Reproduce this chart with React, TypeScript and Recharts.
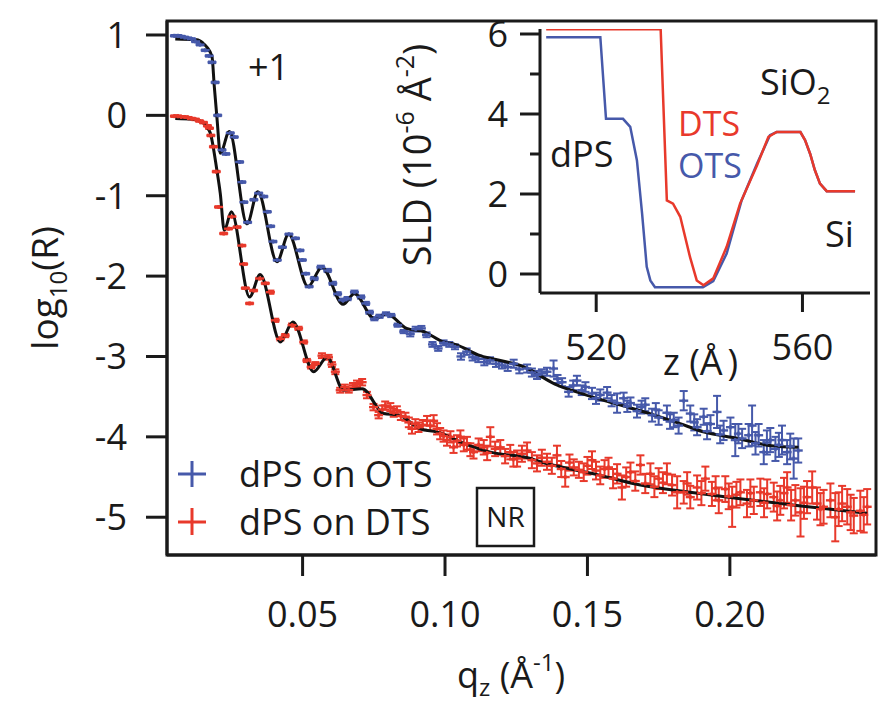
import React from "react";
import {
  ComposedChart,
  LineChart,
  Scatter,
  Line,
  XAxis,
  YAxis,
  ErrorBar,
  ReferenceArea,
} from "recharts";

const FONT = "'Open Sans', 'DejaVu Sans', sans-serif";
const INK = "#1a1a1a";
const BLUE = "#4659aa";
const RED = "#e8392b";

// reflectivity, dPS on OTS (shifted by +1)
const qOts = [
  0.005, 0.0062, 0.0074, 0.0086, 0.0098, 0.011, 0.0124, 0.014, 0.0158, 0.0172, 0.0182, 0.0193, 0.0202,
  0.0217, 0.0231, 0.0246, 0.026, 0.0279, 0.0287, 0.0294, 0.0307, 0.0329, 0.0346, 0.0364, 0.0376, 0.0388,
  0.0396, 0.0411, 0.0429, 0.0452, 0.0475, 0.0491, 0.0499, 0.0511, 0.0523, 0.0541, 0.0564, 0.0588, 0.0606,
  0.0623, 0.0641, 0.0658, 0.0682, 0.0705, 0.0722, 0.0735, 0.0752, 0.077, 0.0793, 0.0811, 0.0834, 0.0855,
  0.0878, 0.0897, 0.0917, 0.0935, 0.0956, 0.0976, 0.0995, 0.1015, 0.1035, 0.1056, 0.1076, 0.1097, 0.1117,
  0.1138, 0.1158, 0.1179, 0.12, 0.122, 0.1241, 0.1261, 0.1288, 0.1305, 0.1323, 0.134, 0.1358, 0.1381,
  0.1395, 0.1411, 0.1434, 0.145, 0.1463, 0.148, 0.1493, 0.1516, 0.153, 0.1545, 0.1569, 0.1585, 0.1604,
  0.1627, 0.164, 0.1651, 0.1674, 0.169, 0.1703, 0.1727, 0.174, 0.175, 0.1779, 0.179, 0.1803, 0.182,
  0.1838, 0.1861, 0.1875, 0.1885, 0.1908, 0.192, 0.1932, 0.1955, 0.1966, 0.1978, 0.2002, 0.2019, 0.203,
  0.2043, 0.2066, 0.2078, 0.209, 0.2101, 0.2119, 0.213, 0.2142, 0.216, 0.2172, 0.2183, 0.2201, 0.2212,
  0.2224, 0.224,
];
const rOts = [
  0.99, 0.99, 0.98, 0.97, 0.96, 0.95, 0.92, 0.88, 0.81, 0.74, 0.66, 0.41, 0.0,
  -0.43, -0.48, -0.22, -0.27, -0.58, -0.83, -1.08, -1.33, -1.05, -0.97, -1.01, -1.2, -1.38,
  -1.57, -1.8, -1.64, -1.48, -1.53, -1.68, -1.8, -1.97, -2.13, -2.03, -1.89, -1.93, -2.09,
  -2.22, -2.3, -2.28, -2.2, -2.26, -2.34, -2.45, -2.53, -2.5, -2.47, -2.49, -2.61, -2.69,
  -2.72, -2.66, -2.65, -2.73, -2.85, -2.9, -2.83, -2.85, -2.88, -3.0, -2.94, -3.01, -3.03,
  -3.07, -3.05, -3.09, -3.11, -3.13, -3.09, -3.16, -3.15, -3.2, -3.23, -3.21, -3.19, -3.15,
  -3.28, -3.32, -3.44, -3.36, -3.3, -3.42, -3.38, -3.46, -3.52, -3.48, -3.45, -3.55, -3.58,
  -3.52, -3.62, -3.58, -3.68, -3.63, -3.6, -3.73, -3.66, -3.76, -3.7, -3.81, -3.79, -3.86,
  -3.55, -3.71, -3.82, -3.88, -3.75, -3.93, -3.84, -3.69, -3.97, -3.92, -3.88, -4.04, -3.96,
  -4.02, -3.98, -3.86, -4.08, -3.98, -4.19, -4.07, -4.04, -4.15, -4.1, -4.04, -4.19, -4.12,
  -4.27, -4.17,
];
const eOts = [
  0.01, 0.01, 0.01, 0.01, 0.01, 0.01, 0.01, 0.01, 0.01, 0.01, 0.01, 0.01, 0.01,
  0.01, 0.01, 0.01, 0.01, 0.01, 0.01, 0.01, 0.01, 0.01, 0.01, 0.01, 0.01, 0.01,
  0.01, 0.01, 0.01, 0.01, 0.01, 0.01, 0.01, 0.01, 0.01, 0.02, 0.02, 0.02, 0.02,
  0.02, 0.02, 0.02, 0.02, 0.02, 0.02, 0.02, 0.02, 0.02, 0.02, 0.02, 0.02, 0.02,
  0.03, 0.03, 0.03, 0.03, 0.03, 0.03, 0.03, 0.03, 0.03, 0.04, 0.04, 0.04, 0.04,
  0.04, 0.04, 0.04, 0.04, 0.05, 0.05, 0.05, 0.05, 0.05, 0.05, 0.05, 0.05, 0.1,
  0.05, 0.05, 0.06, 0.06, 0.06, 0.06, 0.06, 0.07, 0.07, 0.07, 0.07, 0.07, 0.12,
  0.07, 0.07, 0.07, 0.08, 0.08, 0.08, 0.08, 0.08, 0.09, 0.09, 0.09, 0.09, 0.1,
  0.12, 0.1, 0.1, 0.1, 0.1, 0.1, 0.11, 0.2, 0.11, 0.12, 0.12, 0.2, 0.12,
  0.12, 0.14, 0.25, 0.14, 0.14, 0.15, 0.15, 0.15, 0.15, 0.15, 0.18, 0.15, 0.16,
  0.25, 0.15,
];

// reflectivity, dPS on DTS
const qDts = [
  0.005, 0.0062, 0.0074, 0.0086, 0.0098, 0.011, 0.0124, 0.0138, 0.0152, 0.0166, 0.0173, 0.0178, 0.0187,
  0.0197, 0.0205, 0.0223, 0.024, 0.0252, 0.027, 0.0287, 0.0293, 0.0299, 0.0314, 0.0328, 0.0349, 0.0369,
  0.0387, 0.0404, 0.0422, 0.0439, 0.0463, 0.0486, 0.0504, 0.0515, 0.053, 0.0545, 0.0568, 0.0591, 0.0603,
  0.0615, 0.0632, 0.0648, 0.0662, 0.0677, 0.0691, 0.0709, 0.0726, 0.0749, 0.0767, 0.078, 0.079, 0.0808,
  0.082, 0.0831, 0.0845, 0.0861, 0.0873, 0.0884, 0.0896, 0.0907, 0.0922, 0.0937, 0.0948, 0.096, 0.0972,
  0.0983, 0.0995, 0.1007, 0.1019, 0.103, 0.1042, 0.1054, 0.1066, 0.1077, 0.1089, 0.11, 0.1118, 0.1136,
  0.1148, 0.1159, 0.1176, 0.1194, 0.1211, 0.1229, 0.124, 0.1253, 0.127, 0.1288, 0.1305, 0.1323, 0.134,
  0.1358, 0.1375, 0.1393, 0.1408, 0.1422, 0.1437, 0.1452, 0.147, 0.1487, 0.15, 0.1516, 0.153, 0.1545,
  0.156, 0.1574, 0.159, 0.1604, 0.1621, 0.1636, 0.1651, 0.1668, 0.1686, 0.1703, 0.1721, 0.1735, 0.175,
  0.1765, 0.1779, 0.1797, 0.1815, 0.1838, 0.185, 0.1861, 0.1885, 0.19, 0.1914, 0.1937, 0.195, 0.1961,
  0.1984, 0.1996, 0.2008, 0.2023, 0.2037, 0.206, 0.2072, 0.2084, 0.2107, 0.212, 0.2131, 0.2154, 0.2166,
  0.2177, 0.219, 0.2201, 0.2215, 0.223, 0.2248, 0.226, 0.2271, 0.2289, 0.2306, 0.2318, 0.2329, 0.2353,
  0.237, 0.2382, 0.2394, 0.2412, 0.2424, 0.2435, 0.2458, 0.247, 0.2482,
];
const rDts = [
  -0.01, -0.01, -0.02, -0.02, -0.03, -0.04, -0.05, -0.07, -0.09, -0.13, -0.16, -0.25, -0.39,
  -0.7, -1.14, -1.47, -1.41, -1.26, -1.39, -1.62, -1.85, -2.15, -2.34, -2.18, -2.03, -2.09,
  -2.2, -2.55, -2.78, -2.74, -2.61, -2.65, -2.82, -3.05, -3.13, -3.09, -2.99, -3.01, -3.1,
  -3.19, -3.42, -3.38, -3.42, -3.36, -3.34, -3.32, -3.48, -3.63, -3.73, -3.66, -3.61, -3.63,
  -3.7, -3.67, -3.74, -3.75, -3.82, -3.9, -3.84, -3.88, -3.85, -3.8, -3.86, -3.8, -3.9,
  -3.96, -3.99, -4.04, -4.0, -4.13, -4.05, -4.0, -4.1, -4.08, -4.16, -4.19, -4.1, -4.13,
  -4.2, -4.0, -4.15, -4.13, -4.24, -4.19, -4.28, -4.27, -4.21, -4.17, -4.29, -4.33, -4.26,
  -4.31, -4.36, -4.23, -4.4, -4.5, -4.32, -4.38, -4.41, -4.44, -4.36, -4.29, -4.42, -4.48,
  -4.4, -4.38, -4.52, -4.46, -4.63, -4.5, -4.44, -4.55, -4.35, -4.58, -4.46, -4.62, -4.52,
  -4.57, -4.46, -4.6, -4.69, -4.69, -4.58, -4.75, -4.63, -4.7, -4.52, -4.71, -4.64, -4.79,
  -4.65, -4.74, -4.87, -4.72, -4.69, -4.83, -4.7, -4.79, -4.69, -4.82, -4.71, -4.75, -4.86,
  -4.79, -4.7, -4.63, -4.85, -4.79, -4.94, -4.82, -4.75, -4.63, -4.83, -4.9, -4.87, -4.79,
  -5.0, -4.9, -4.83, -4.87, -4.94, -4.98, -4.92, -4.97, -4.87,
];
const eDts = [
  0.01, 0.01, 0.01, 0.01, 0.01, 0.01, 0.01, 0.01, 0.01, 0.01, 0.01, 0.01, 0.01,
  0.01, 0.01, 0.01, 0.01, 0.01, 0.01, 0.01, 0.01, 0.01, 0.01, 0.01, 0.01, 0.01,
  0.02, 0.02, 0.02, 0.02, 0.02, 0.02, 0.02, 0.02, 0.02, 0.02, 0.03, 0.03, 0.03,
  0.03, 0.03, 0.03, 0.03, 0.03, 0.04, 0.04, 0.04, 0.04, 0.04, 0.05, 0.05, 0.05,
  0.05, 0.05, 0.05, 0.05, 0.06, 0.06, 0.06, 0.06, 0.06, 0.06, 0.06, 0.07, 0.07,
  0.07, 0.07, 0.07, 0.07, 0.07, 0.07, 0.08, 0.08, 0.08, 0.08, 0.08, 0.08, 0.09,
  0.09, 0.12, 0.09, 0.09, 0.09, 0.09, 0.09, 0.1, 0.1, 0.1, 0.1, 0.1, 0.1,
  0.1, 0.1, 0.12, 0.1, 0.12, 0.1, 0.1, 0.1, 0.11, 0.11, 0.11, 0.11, 0.11,
  0.11, 0.12, 0.12, 0.12, 0.15, 0.12, 0.12, 0.12, 0.12, 0.12, 0.13, 0.13, 0.13,
  0.13, 0.13, 0.13, 0.2, 0.14, 0.14, 0.14, 0.15, 0.15, 0.15, 0.15, 0.15, 0.16,
  0.16, 0.16, 0.25, 0.16, 0.16, 0.17, 0.17, 0.17, 0.17, 0.18, 0.18, 0.18, 0.18,
  0.18, 0.19, 0.19, 0.19, 0.19, 0.3, 0.2, 0.2, 0.2, 0.2, 0.2, 0.21, 0.21,
  0.3, 0.21, 0.22, 0.22, 0.22, 0.22, 0.25, 0.22, 0.22,
];

// fitted reflectivity curves
const qFitOts = [
  0.0053, 0.0129, 0.015, 0.0164, 0.0182, 0.019, 0.02, 0.0211, 0.0243, 0.0305, 0.0343, 0.041, 0.0451,
  0.0519, 0.0568, 0.0642, 0.0682, 0.0752, 0.0796, 0.0865, 0.0925, 0.0995, 0.1035, 0.1124, 0.1206,
  0.1264, 0.13, 0.1384, 0.147, 0.156, 0.165, 0.1735, 0.182, 0.191, 0.2028, 0.2145, 0.2241,
];
const rFitOts = [
  0.95, 0.94, 0.9, 0.85, 0.73, 0.36, -0.06, -0.47, -0.2, -1.35, -0.95, -1.82, -1.48,
  -2.13, -1.89, -2.35, -2.22, -2.53, -2.47, -2.65, -2.69, -2.82, -2.85, -2.99, -3.06,
  -3.11, -3.17, -3.34, -3.45, -3.55, -3.64, -3.73, -3.83, -3.94, -4.02, -4.11, -4.13,
];
const qFitDts = [
  0.0053, 0.0117, 0.015, 0.0162, 0.0176, 0.0199, 0.0211, 0.0225, 0.025, 0.0314, 0.0351, 0.0422, 0.0466,
  0.0539, 0.0586, 0.0644, 0.0709, 0.0784, 0.0837, 0.0913, 0.0972, 0.1065, 0.1159, 0.13, 0.1335, 0.1535,
  0.1686, 0.186, 0.2036, 0.225, 0.2482,
];
const rFitDts = [
  -0.04, -0.05, -0.09, -0.14, -0.22, -0.68, -0.97, -1.43, -1.2, -2.26, -1.98, -2.82, -2.57,
  -3.19, -3.01, -3.42, -3.4, -3.71, -3.73, -3.9, -3.94, -4.08, -4.19, -4.27, -4.31, -4.47,
  -4.6, -4.69, -4.77, -4.86, -4.95,
];

// SLD profiles for the inset
const zOts = [
  510.3, 520.8, 521.9, 525.2, 526.6, 527.9, 528.9, 529.8, 530.5, 531.4, 540.7, 542.7, 545.3, 548.2,
  551.2, 553.7, 555.0, 559.6, 560.5, 561.5, 562.4, 563.4, 564.7, 570.2,
];
const sldOts = [
  5.92, 5.92, 3.88, 3.88, 3.68, 2.84, 1.51, 0.18, -0.16, -0.33, -0.33, -0.18, 0.51, 1.84,
  2.76, 3.47, 3.55, 3.55, 3.35, 3.0, 2.6, 2.26, 2.07, 2.07,
];
const zDts = [
  510.3, 532.5, 533.7, 534.9, 536.3, 538.2, 539.5, 540.8, 542.7, 545.3, 547.9, 551.2, 553.4, 555.0,
  559.6, 560.5, 561.5, 562.4, 563.4, 564.7, 570.2,
];
const sldDts = [
  6.12, 6.12, 1.84, 1.76, 1.43, 0.42, -0.16, -0.28, -0.11, 0.68, 1.76, 2.72, 3.43, 3.55,
  3.55, 3.35, 3.0, 2.6, 2.26, 2.07, 2.07,
];

const Q_DOMAIN: [number, number] = [0.0024, 0.2513];
const R_DOMAIN: [number, number] = [-5.47, 1.174];
const Q_TICKS = [0.05, 0.1, 0.15, 0.2];
const R_TICKS = [-5, -4, -3, -2, -1, 0, 1];

const Z_DOMAIN: [number, number] = [509.1, 573.1];
const SLD_DOMAIN: [number, number] = [-0.475, 6.125];
const Z_TICKS = [520, 560];
const SLD_TICKS = [0, 1, 2, 3, 4, 5, 6];

const points = (q: number[], r: number[], e: number[]) => q.map((v, i) => ({ q: v, r: r[i], e: e[i] }));
const curve = (q: number[], r: number[]) => q.map((v, i) => ({ q: v, y: r[i] }));

const otsPoints = points(qOts, rOts, eOts);
const dtsPoints = points(qDts, rDts, eDts);
const otsFit = curve(qFitOts, rFitOts);
const dtsFit = curve(qFitDts, rFitDts);
const otsSld = curve(zOts, sldOts);
const dtsSld = curve(zDts, sldDts);

const tickStyle = { fontFamily: FONT, fontSize: 36, fill: INK };

const plusMark = (color: string) => (props: any) => {
  const { cx, cy } = props;
  if (cx == null || cy == null) return <g />;
  return (
    <g stroke={color} strokeWidth={2.4}>
      <line x1={cx - 4.5} x2={cx + 4.5} y1={cy} y2={cy} />
      <line x1={cx} x2={cx} y1={cy - 2} y2={cy + 2} />
    </g>
  );
};

// inset y ticks: long ticks with labels on even values, short ticks in between
const SldTick = (props: any) => {
  const { x, y, payload } = props;
  const v = payload.value as number;
  const major = v % 2 === 0;
  const axisX = x + 20 + 12;
  return (
    <g>
      <line x1={axisX - (major ? 20 : 10)} x2={axisX} y1={y} y2={y} stroke={INK} strokeWidth={3} />
      {major && (
        <text x={x} y={y} dy="0.355em" textAnchor="end" fontFamily={FONT} fontSize={36} fill={INK}>
          {v}
        </text>
      )}
    </g>
  );
};

const layer: React.CSSProperties = { position: "absolute", left: 0, top: 0 };

export default function App() {
  return (
    <div style={{ position: "absolute", left: 0, top: 0, width: 884, height: 721, background: "#fff" }}>
      <div style={layer}>
        <ComposedChart width={884} height={721} margin={{ top: 21, right: 8, bottom: 106, left: 107 }}>
          <XAxis
            type="number"
            dataKey="q"
            domain={Q_DOMAIN}
            allowDataOverflow
            ticks={Q_TICKS}
            tickFormatter={(v: number) => v.toFixed(2)}
            tick={tickStyle}
            tickSize={21}
            tickMargin={25}
            height={60}
            axisLine={{ stroke: INK, strokeWidth: 3 }}
            tickLine={{ stroke: INK, strokeWidth: 3 }}
          />
          <YAxis
            type="number"
            domain={R_DOMAIN}
            allowDataOverflow
            ticks={R_TICKS}
            tick={tickStyle}
            tickSize={21}
            tickMargin={19}
            width={60}
            axisLine={{ stroke: INK, strokeWidth: 3 }}
            tickLine={{ stroke: INK, strokeWidth: 3 }}
          />
          <ReferenceArea
            x1={Q_DOMAIN[0]}
            x2={Q_DOMAIN[1]}
            y1={R_DOMAIN[0]}
            y2={R_DOMAIN[1]}
            fill="none"
            stroke={INK}
            strokeWidth={3}
          />
          <Scatter data={otsPoints} dataKey="r" shape={plusMark(BLUE)} isAnimationActive={false}>
            <ErrorBar dataKey="e" direction="y" width={4} stroke={BLUE} strokeWidth={2} />
          </Scatter>
          <Scatter data={dtsPoints} dataKey="r" shape={plusMark(RED)} isAnimationActive={false}>
            <ErrorBar dataKey="e" direction="y" width={4} stroke={RED} strokeWidth={2} />
          </Scatter>
          <Line data={otsFit} dataKey="y" type="monotone" stroke="#111" strokeWidth={3} dot={false} isAnimationActive={false} />
          <Line data={dtsFit} dataKey="y" type="monotone" stroke="#111" strokeWidth={3} dot={false} isAnimationActive={false} />
        </ComposedChart>
      </div>

      <div style={layer}>
        <LineChart width={884} height={721} margin={{ top: 29, right: 14, bottom: 368, left: 480 }}>
          <XAxis
            type="number"
            dataKey="q"
            domain={Z_DOMAIN}
            allowDataOverflow
            ticks={Z_TICKS}
            tick={tickStyle}
            tickSize={19}
            tickMargin={22}
            height={60}
            axisLine={{ stroke: INK, strokeWidth: 3 }}
            tickLine={{ stroke: INK, strokeWidth: 3 }}
          />
          <YAxis
            type="number"
            domain={SLD_DOMAIN}
            allowDataOverflow
            ticks={SLD_TICKS}
            tick={<SldTick />}
            tickSize={20}
            tickMargin={12}
            width={60}
            axisLine={{ stroke: INK, strokeWidth: 3 }}
            tickLine={false}
          />
          <Line data={otsSld} dataKey="y" type="linear" stroke={BLUE} strokeWidth={2.5} dot={false} isAnimationActive={false} />
          <Line data={dtsSld} dataKey="y" type="linear" stroke={RED} strokeWidth={2.5} dot={false} isAnimationActive={false} />
        </LineChart>
      </div>

      <svg width={884} height={721} style={{ ...layer, pointerEvents: "none" }} fontFamily={FONT} fill={INK}>
        {/* main axis titles */}
        <text transform="translate(58, 288) rotate(-90)" textAnchor="middle" fontSize={37}>
          log
          <tspan dy={9} fontSize={24}>10</tspan>
          <tspan dy={-9}>(R)</tspan>
        </text>
        <text x={457} y={688} fontSize={36}>
          q<tspan dy={8} fontSize={24}>z</tspan>
          <tspan dy={-8}> (Å</tspan>
          <tspan dy={-17} fontSize={24}>-1</tspan>
          <tspan dy={17}>)</tspan>
        </text>
        <text x={248} y={80} fontSize={36}>+1</text>

        {/* legend */}
        <g strokeWidth={3}>
          <line x1={178} x2={206} y1={474} y2={474} stroke={BLUE} />
          <line x1={192} x2={192} y1={461} y2={487} stroke={BLUE} />
          <line x1={178} x2={206} y1={522} y2={522} stroke={RED} />
          <line x1={192} x2={192} y1={508} y2={535} stroke={RED} />
        </g>
        <text x={239} y={487} fontSize={36}>dPS on OTS</text>
        <text x={239} y={535} fontSize={36}>dPS on DTS</text>

        <rect x={477} y={488} width={57} height={58} fill="none" stroke={INK} strokeWidth={2.5} />
        <text x={505.5} y={527} fontSize={28} textAnchor="middle">NR</text>

        {/* inset titles and annotations */}
        <text transform="translate(431, 155) rotate(-90)" textAnchor="middle" fontSize={38}>
          SLD (10
          <tspan dy={-17} fontSize={25}>-6</tspan>
          <tspan dy={17}> Å</tspan>
          <tspan dy={-17} fontSize={25}>-2</tspan>
          <tspan dy={17}>)</tspan>
        </text>
        <text x={663} y={375} fontSize={36}>z (Å<tspan dx={5}>)</tspan></text>
        <text x={550} y={167} fontSize={36}>dPS</text>
        <text x={678} y={136} fontSize={34} fill={RED}>DTS</text>
        <text x={678} y={178} fontSize={34} fill={BLUE}>OTS</text>
        <text x={760} y={95} fontSize={36}>
          SiO<tspan dy={9} fontSize={24}>2</tspan>
        </text>
        <text x={825} y={247} fontSize={36}>Si</text>
      </svg>
    </div>
  );
}
